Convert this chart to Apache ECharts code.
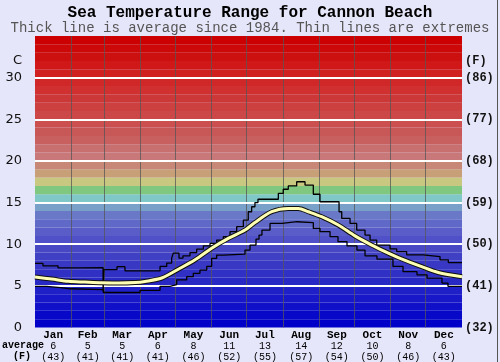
<!DOCTYPE html>
<html>
<head>
<meta charset="utf-8">
<script src="https://cdn.jsdelivr.net/npm/echarts@6/dist/echarts.min.js"></script>
<style>
html,body{margin:0;padding:0;background:#e6e6fa;}
#chart{width:500px;height:362px;}
</style>
</head>
<body>
<div id="chart"></div>
<script>
// ---- data ----
const monthNames = ['Jan','Feb','Mar','Apr','May','Jun','Jul','Aug','Sep','Oct','Nov','Dec'];
const monthAvgC = [6,5,5,6,8,11,13,14,12,10,8,6];
const monthAvgF = [43,41,41,41,46,52,55,57,54,50,46,43];
const monthMidDays = [15.5,45,74.5,105,135.5,166,196.5,227.5,258,288.5,319,349.5];
const monthStartDays = [31,59,90,120,151,181,212,243,273,304,334];
const yTicksC = [0,5,10,15,20,25,30];

const avgDays  = [0,14.3,28.5,42.7,57,71.2,85.5,94,108.3,122.5,136.8,151,165.2,179.5,188,202.3,216.5,225.1,233.6,245,259.3,273.5,287.8,302,310.5,330.5,344.7,365];
const avgTemps = [6.06,5.82,5.55,5.45,5.36,5.34,5.4,5.53,5.94,7.0,8.13,9.52,10.7,11.7,12.6,13.9,14.3,14.3,13.9,13.3,12.3,11.0,9.9,8.93,8.4,7.3,6.6,6.1];

const maxDays  = [0,6.8,19.7,38.5,58.2,58.9,70.1,76.9,106.9,112.6,116.8,118.2,123.1,126.5,132.5,138.2,143.9,149.6,155.3,161,166.7,172.4,178.1,182.3,185.2,188,190.6,208,212.2,216.5,223.7,230.8,237.9,243.6,259.9,262.2,269.3,275,282.1,286.4,292.1,303.5,309.2,317.7,331.9,346.2,353.3,365];
const maxTemps = [7.7,7.4,7.15,7.2,4.3,6.95,7.3,6.8,7.33,7.73,8.33,8.93,8.33,8.6,9.0,9.4,9.8,10.1,10.5,10.9,11.5,12.1,12.9,13.9,14.5,15.0,15.4,16.1,16.6,17.0,17.5,17.1,16.0,15.1,13.9,13.1,12.5,11.7,11.1,10.5,9.9,9.44,9.1,8.72,8.52,8.13,7.8,7.8];

const minDays  = [0,10,22,30,58.5,89.8,106.9,115.4,121.1,129.7,135.3,141,146.8,151,155.3,161,179.5,183.8,188.9,191.5,194,200.9,211.1,224,237.9,243.6,252.2,259,266.7,275.2,282.1,292.3,306,314.6,326.5,335.1,347.9,353,365];
const minTemps = [4.94,4.8,4.65,4.54,4.2,4.46,4.94,5.14,5.73,6.1,6.5,6.9,7.33,8.3,8.7,8.8,9.3,9.9,10.6,11.1,11.7,12.5,12.7,12.6,11.9,11.5,10.9,10.3,9.8,9.3,8.6,8.2,7.33,6.7,6.33,5.94,5.34,4.94,4.94];

// ---- styles ----
const bandColors = ['#0000c8','#0808c8','#1010c8','#1818c8','#2020c8','#2828c4','#3030c4','#3838c4','#4040c4','#4848c4',
  '#5050c8','#5a5cc8','#6068c8','#6a78c8','#78a0c8','#80c8c8','#80c880','#c8c880','#c8a078','#c88878',
  '#c87878','#c87070','#c86060','#c85858','#cc5050','#cc4848','#cc4040','#cc3838','#d03030','#d02828',
  '#d02020','#d01818','#cc1010','#cc0808','#cc0000'];

const zip = (a, b) => a.map((v, i) => [v, b[i]]);
const mono = 'Liberation Mono, Courier New, monospace';

const bands = bandColors.map((c, i) => [{yAxis: i, itemStyle: {color: c}}, {yAxis: i + 1}]);
const hLines = yTicksC.slice(1).map(v => ({yAxis: v}));
const vLines = monthStartDays.map(d => ({xAxis: d}));

const chart = echarts.init(document.getElementById('chart'), null, {renderer: 'canvas'});
chart.setOption({
  animation: false,
  backgroundColor: '#e6e6fa',
  title: {
    text: 'Sea Temperature Range for Cannon Beach',
    subtext: 'Thick line is average since 1984. Thin lines are extremes',
    left: 'center', top: 5, itemGap: 0, padding: 0,
    textStyle: {fontFamily: mono, fontWeight: 'bold', fontSize: 16, color: '#000', lineHeight: 16},
    subtextStyle: {fontFamily: mono, fontSize: 14, color: '#555', lineHeight: 14}
  },
  grid: {left: 35, right: 38, top: 36, bottom: 34},
  xAxis: {
    type: 'value', min: 0, max: 365,
    splitLine: {show: false}, axisLine: {show: false}, axisTick: {show: false},
    axisLabel: {
      customValues: monthMidDays, margin: 2,
      formatter: function (v) {
        let i = 0, best = 1e9;
        monthMidDays.forEach((d, k) => { if (Math.abs(d - v) < best) { best = Math.abs(d - v); i = k; } });
        return '{m|' + monthNames[i] + '}\n{c|' + monthAvgC[i] + '}\n{f|(' + monthAvgF[i] + ')}';
      },
      rich: {
        m: {fontFamily: mono, fontWeight: 'bold', fontSize: 11, lineHeight: 11, color: '#000'},
        c: {fontFamily: mono, fontSize: 10, lineHeight: 11, color: '#000'},
        f: {fontFamily: mono, fontSize: 10, lineHeight: 11, color: '#000'}
      }
    }
  },
  yAxis: [{
    type: 'value', min: 0, max: 35, interval: 5, position: 'left',
    splitLine: {show: false}, axisLine: {show: false}, axisTick: {show: false},
    axisLabel: {margin: 13, fontFamily: 'DejaVu Sans', fontSize: 13, color: '#111',
      formatter: v => v === 35 ? '' : String(v)},
    name: 'C', nameLocation: 'end', nameGap: -25,
    nameTextStyle: {fontFamily: 'DejaVu Sans', fontSize: 13, color: '#111', align: 'right', verticalAlign: 'middle', padding: [0, 13, 0, 0]}
  }, {
    type: 'value', min: 0, max: 35, interval: 5, position: 'right',
    splitLine: {show: false}, axisLine: {show: false}, axisTick: {show: false},
    axisLabel: {margin: 3, fontFamily: mono, fontWeight: 'bold', fontSize: 12, color: '#111',
      formatter: v => v === 35 ? '' : '(' + Math.round(v * 9 / 5 + 32) + ')'},
    name: '(F)', nameLocation: 'end', nameGap: -25,
    nameTextStyle: {fontFamily: mono, fontWeight: 'bold', fontSize: 12, color: '#111', align: 'left', verticalAlign: 'middle', padding: [0, 0, 0, 3]}
  }],
  graphic: [
    {type: 'text', left: 2, top: 340, style: {text: 'average', fontFamily: mono, fontWeight: 'bold', fontSize: 10, fill: '#000'}},
    {type: 'text', left: 13, top: 351, style: {text: '(F)', fontFamily: mono, fontWeight: 'bold', fontSize: 10, fill: '#000'}},
    {type: 'rect', left: 497, top: 0, shape: {width: 1, height: 362}, style: {fill: '#555'}}
  ],
  series: [
    {
      type: 'line', data: [], z: 1, silent: true,
      markArea: {silent: true, data: bands, itemStyle: {opacity: 1}}
    },
    {
      type: 'line', data: [], z: 2, silent: true,
      markLine: {silent: true, symbol: ['none', 'none'], label: {show: false},
        lineStyle: {color: 'rgba(85,85,85,0.75)', width: 1, type: 'solid'}, data: vLines}
    },
    {
      type: 'line', data: [], z: 3, silent: true,
      markLine: {silent: true, symbol: ['none', 'none'], label: {show: false},
        lineStyle: {color: '#ffffff', width: 2, type: 'solid'}, data: hLines}
    },
    {
      type: 'line', data: zip(maxDays, maxTemps), step: 'end', showSymbol: false, z: 10,
      lineStyle: {color: '#000', width: 1.3}
    },
    {
      type: 'line', data: zip(minDays, minTemps), step: 'end', showSymbol: false, z: 10,
      lineStyle: {color: '#000', width: 1.3}
    },
    {
      type: 'line', data: zip(avgDays, avgTemps), smooth: 0.3, showSymbol: false, z: 11,
      lineStyle: {color: '#111', width: 5}
    },
    {
      type: 'line', data: zip(avgDays, avgTemps), smooth: 0.3, showSymbol: false, z: 12,
      lineStyle: {color: '#ffffb4', width: 3}
    }
  ]
});
</script>
</body>
</html>
